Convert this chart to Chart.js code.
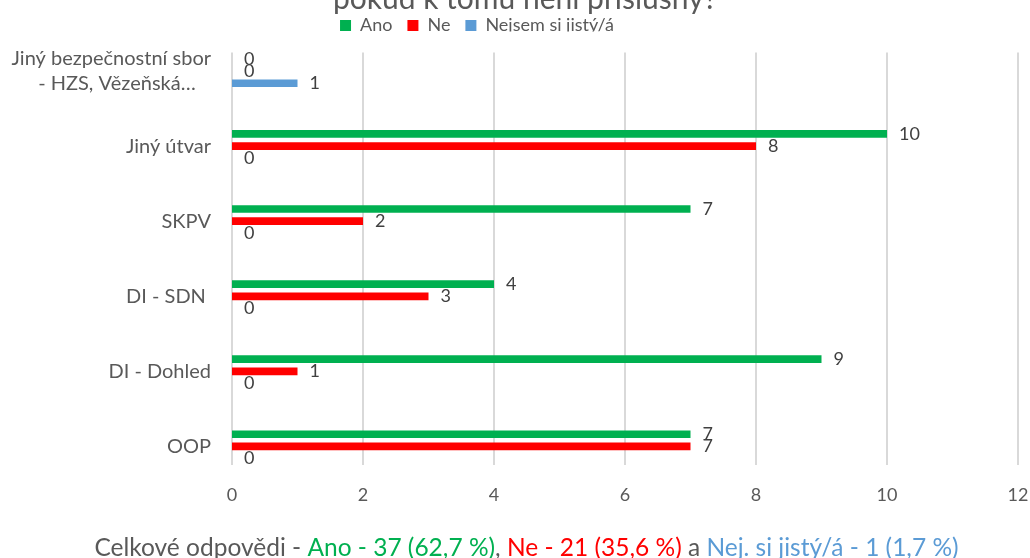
<!DOCTYPE html>
<html>
<head>
<meta charset="utf-8">
<script src="https://cdn.jsdelivr.net/npm/chart.js@4.4.1/dist/chart.umd.min.js"></script>
<style>
html,body{margin:0;padding:0;background:#fff;overflow:hidden}
#wrap{width:1030px;height:558px;position:relative}
</style>
</head>
<body>
<div id="wrap"><canvas id="c" width="1030" height="558"></canvas></div>
<script>
// ---- data ----
const categories = [
  ["Jiný bezpečnostní sbor", "- HZS, Vězeňská…\u00a0\u00a0\u00a0"],
  "Jiný útvar",
  "SKPV",
  "DI - SDN\u00a0",
  "DI - Dohled",
  "OOP"
];
const seriesNames = ["Ano", "Ne", "Nejsem si jistý/á"];
const anoValues = [0, 10, 7, 4, 9, 7];
const neValues = [0, 8, 2, 3, 1, 7];
const nejsemValues = [1, 0, 0, 0, 0, 0];
const xMin = 0, xMax = 12, xStep = 2;
const titleText = "pokud k tomu není příslušný?";
const footerTexts = ["Celkové odpovědi - ", "Ano - 37 (62,7 %)", ", ", "Ne - 21 (35,6 %)", " a ", "Nej. si jistý/á - 1 (1,7 %)"];

// ---- styles ----
const GREEN = "#00B050", RED = "#FF0000", BLUE = "#5B9BD5";
const TEXT = "#595959", LABEL = "#404040", GRID = "#D9D9D9";
const FONT = "Lato";
const footerColors = [TEXT, GREEN, TEXT, RED, TEXT, BLUE];

const partialGrid = {
  id: "partialGrid",
  beforeDatasetsDraw(chart) {
    const { ctx, chartArea, scales: { x } } = chart;
    ctx.save();
    ctx.strokeStyle = GRID;
    ctx.lineWidth = 2;
    x.ticks.forEach(t => {
      const px = Math.round(x.getPixelForValue(t.value));
      ctx.beginPath();
      ctx.moveTo(px, chartArea.top + 19);
      ctx.lineTo(px, chartArea.bottom - 19);
      ctx.stroke();
    });
    ctx.restore();
  }
};

const valueLabels = {
  id: "valueLabels",
  afterDatasetsDraw(chart) {
    const { ctx } = chart;
    ctx.save();
    ctx.font = "18px " + FONT;
    ctx.fillStyle = LABEL;
    ctx.textAlign = "left";
    ctx.textBaseline = "middle";
    chart.data.datasets.forEach((ds, i) => {
      const meta = chart.getDatasetMeta(i);
      meta.data.forEach((el, j) => {
        ctx.fillText(String(ds.data[j]), el.x + 12, el.y);
      });
    });
    ctx.restore();
  }
};

const legendShift = {
  id: "legendShift",
  afterLayout(chart) {
    if (chart.legend) {
      chart.legend.left -= 32;
      chart.legend.right -= 32;
      chart.legend.top -= 2;
      chart.legend.bottom -= 2;
    }
  }
};

const texts = {
  id: "texts",
  afterDraw(chart) {
    const { ctx } = chart;
    ctx.save();
    ctx.fillStyle = TEXT;
    ctx.font = "30px " + FONT;
    ctx.textAlign = "center";
    ctx.textBaseline = "alphabetic";
    ctx.fillText(titleText, 525, 9);

    ctx.font = "24.5px " + FONT;
    ctx.textAlign = "left";
    const widths = footerTexts.map(t => ctx.measureText(t).width);
    const total = widths.reduce((a, b) => a + b, 0);
    let x = 526.5 - total / 2;
    footerTexts.forEach((t, i) => {
      ctx.fillStyle = footerColors[i];
      ctx.fillText(t, x, 556);
      x += widths[i];
    });
    ctx.restore();
  }
};

const barStyle = { categoryPercentage: 0.488, barPercentage: 0.63, borderWidth: 0 };

new Chart(document.getElementById("c"), {
  type: "bar",
  data: {
    labels: categories,
    datasets: [
      Object.assign({ label: seriesNames[0], data: anoValues, backgroundColor: GREEN }, barStyle),
      Object.assign({ label: seriesNames[1], data: neValues, backgroundColor: RED }, barStyle),
      Object.assign({ label: seriesNames[2], data: nejsemValues, backgroundColor: BLUE }, barStyle)
    ]
  },
  options: {
    indexAxis: "y",
    responsive: false,
    animation: false,
    devicePixelRatio: 1,
    layout: { padding: { top: 0, right: 12, bottom: 50, left: 0 } },
    plugins: {
      tooltip: { enabled: false },
      title: { display: false },
      legend: {
        display: true,
        position: "top",
        align: "center",
        maxHeight: 30,
        labels: {
          boxWidth: 11,
          boxHeight: 11,
          padding: 15,
          color: TEXT,
          font: { family: FONT, size: 18 }
        }
      }
    },
    scales: {
      x: {
        type: "linear",
        min: xMin,
        max: xMax,
        grid: { display: false, drawTicks: false },
        border: { display: false },
        ticks: { stepSize: xStep, color: TEXT, font: { family: FONT, size: 18 }, padding: 0 },
        afterFit(s) { s.height = 24; }
      },
      y: {
        type: "category",
        grid: { display: false, drawTicks: false },
        border: { display: false },
        ticks: { color: TEXT, font: { family: FONT, size: 20, lineHeight: 1.25 }, padding: 21, autoSkip: false },
        afterFit(s) { s.width = 232; }
      }
    }
  },
  plugins: [partialGrid, valueLabels, legendShift, texts]
});
</script>
</body>
</html>
